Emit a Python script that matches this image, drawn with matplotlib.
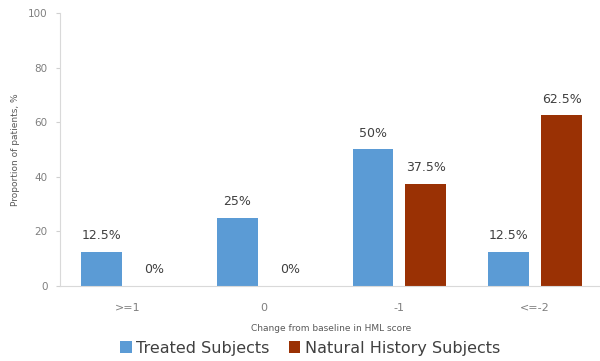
import matplotlib.pyplot as plt
import numpy as np

categories = [">=1", "0", "-1", "<=-2"]
treated = [12.5, 25, 50, 12.5]
natural_history = [0, 0, 37.5, 62.5]
series_names = ["Treated Subjects", "Natural History Subjects"]

blue = "#5b9bd5"
rust = "#9a3104"
grey = "#7f7f7f"

fig = plt.figure(figsize=(6, 3.61), dpi=100)
ax = fig.add_axes([0.1, 0.208, 0.905, 0.756])

x = np.arange(len(categories))
w = 0.30
off = 0.195
b1 = ax.bar(x - off, treated, w, color=blue, label=series_names[0])
b2 = ax.bar(x + off, natural_history, w, color=rust, label=series_names[1])

# value labels above each bar
for bars, vals in ((b1, treated), (b2, natural_history)):
    for rect, v in zip(bars, vals):
        txt = f"{v:g}%"
        ax.annotate(txt, (rect.get_x() + rect.get_width() / 2, v),
                    xytext=(0, 7), textcoords="offset points",
                    ha="center", va="bottom", fontsize=9, color="#404040")

ax.set_xlim(-0.5, 3.5)
ax.set_ylim(0, 100)
ax.set_yticks(range(0, 101, 20))
ax.set_xticks(x)
ax.set_xticklabels(categories)
ax.tick_params(axis="x", length=0, pad=12, labelsize=8, colors=grey)
ax.tick_params(axis="y", length=3, width=0.8, color="#d0d0d0", pad=6,
               labelsize=7.5, labelcolor=grey)

for side in ("top", "right"):
    ax.spines[side].set_visible(False)
ax.spines["left"].set_color("#d9d9d9")
ax.spines["bottom"].set_color("#d9d9d9")

ax.set_ylabel("Proportion of patients, %", fontsize=6.5, color="#595959", labelpad=6)
ax.set_xlabel("Change from baseline in HML score", fontsize=6.5, color="#595959", labelpad=8)

fig.legend(handles=[b1, b2], loc="center", bbox_to_anchor=(0.517, 0.036),
           ncol=2, frameon=False, fontsize=11.5, handlelength=0.7,
           handleheight=0.7, handletextpad=0.3, columnspacing=1.2,
           labelcolor="#404040")

fig.savefig("out.png", dpi=100)
